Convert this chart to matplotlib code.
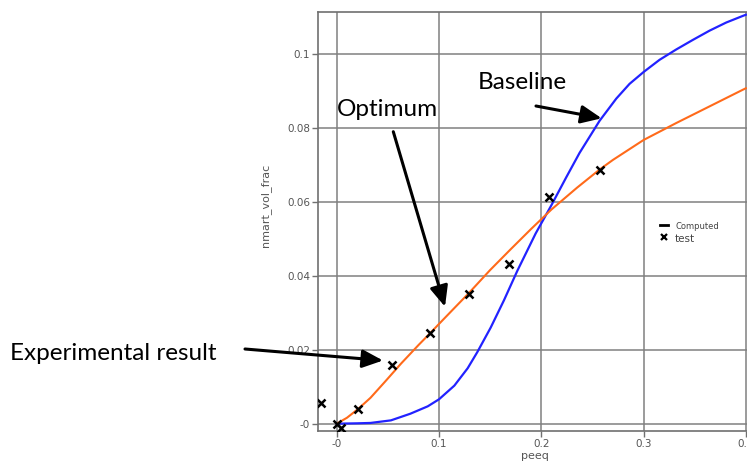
import matplotlib
matplotlib.use('Agg')
import matplotlib.pyplot as plt
from matplotlib.lines import Line2D

# baseline model curve (blue)
base_x = [0, 0.02, 0.033, 0.053, 0.072, 0.089, 0.10, 0.115, 0.128, 0.1375, 0.1505, 0.1635,
          0.1766, 0.1945, 0.21, 0.2244, 0.2374, 0.257, 0.2733, 0.2863, 0.30, 0.3156, 0.3319,
          0.3482, 0.3645, 0.3808, 0.3971, 0.40]
base_y = [0, 0.0001, 0.0002, 0.0009, 0.0027, 0.0047, 0.0066, 0.0103, 0.0150, 0.0194, 0.0260,
          0.0334, 0.0414, 0.0515, 0.0592, 0.0667, 0.0733, 0.0820, 0.0880, 0.0920, 0.0952,
          0.0985, 0.1013, 0.1039, 0.1064, 0.1086, 0.1104, 0.1107]

# optimum model curve (orange)
opt_x = [0, 0.01, 0.021, 0.033, 0.047, 0.063, 0.08, 0.091, 0.10, 0.115, 0.129, 0.15, 0.17,
         0.19, 0.21, 0.235, 0.257, 0.27, 0.30, 0.332, 0.3645, 0.397, 0.40]
opt_y = [0, 0.0016, 0.0040, 0.0070, 0.0113, 0.0163, 0.0213, 0.0244, 0.0270, 0.0313, 0.0353,
         0.0416, 0.0472, 0.0527, 0.0580, 0.0639, 0.0688, 0.0714, 0.0768, 0.0814, 0.0859,
         0.0904, 0.0908]

# experimental points
test_x = [-0.015, 0.0, 0.004, 0.021, 0.054, 0.091, 0.129, 0.168, 0.208, 0.257]
test_y = [0.0055, 0.0, -0.0011, 0.004, 0.0159, 0.0245, 0.0351, 0.0433, 0.0613, 0.0688]

xticks = [0, 0.1, 0.2, 0.3, 0.4]
xtick_labels = ['-0', '0.1', '0.2', '0.3', '0.4']
yticks = [0, 0.02, 0.04, 0.06, 0.08, 0.1]
ytick_labels = ['-0', '0.02', '0.04', '0.06', '0.08', '0.1']

W, H = 747, 463
fig = plt.figure(figsize=(W / 100, H / 100), dpi=100)
ax = fig.add_axes([318.3 / W, (H - 431) / H, 433.5 / W, 419.3 / H])

ax.plot(base_x, base_y, color='#2222ff', lw=1.6, zorder=3)
ax.plot(opt_x, opt_y, color='#ff6a1a', lw=1.5, zorder=3)
ax.plot(test_x, test_y, ls='none', marker='x', ms=6, mew=1.8, color='black', zorder=4)

ax.set_xlim(-0.018, 0.4058)
ax.set_ylim(-0.00198, 0.11153)
ax.set_xticks(xticks)
ax.set_xticklabels(xtick_labels)
ax.set_yticks(yticks)
ax.set_yticklabels(ytick_labels)
ax.grid(True, color='#808080', lw=1.1)
ax.set_axisbelow(True)
ax.tick_params(direction='out', length=4, width=1, color='#707070',
               labelcolor='#555555', labelsize=7.5, pad=2)
for s in ax.spines.values():
    s.set_color('#707070')
    s.set_linewidth(1.2)

ax.set_xlabel('peeq', fontsize=8, color='#555555', labelpad=1)
ax.set_ylabel('nmart_vol_frac', fontsize=8, color='#555555')
ax.yaxis.set_label_coords(-0.11, 0.537)

handles = [Line2D([], [], color='black', lw=2),
           Line2D([], [], ls='none', marker='x', ms=5, mew=1.6, color='black')]
leg = ax.legend(handles, ['Computed', 'test'], loc='center left',
                bbox_to_anchor=(0.772, 0.475), frameon=False, handlelength=0.6,
                handletextpad=0.5, labelspacing=0.05, borderpad=0)
leg.get_texts()[0].set_fontsize(6)
leg.get_texts()[1].set_fontsize(7.5)
for t in leg.get_texts():
    t.set_color('#444444')

# annotation texts
fnt = dict(family=['Lato', 'DejaVu Sans'], fontsize=17.5, color='black', va='baseline')
fig.text(337 / W, (H - 116) / H, 'Optimum', **fnt)
fig.text(478 / W, (H - 89.3) / H, 'Baseline', **fnt)
fig.text(10 / W, (H - 360) / H, 'Experimental result', **fnt)

arrows = [((393.3, 131.7), (445, 306.7)),
          ((536, 106), (601.7, 118.3)),
          ((245, 349), (383, 360.5))]
for tail, tip in arrows:
    fig.add_artist(matplotlib.patches.FancyArrowPatch(
        (tail[0] / W, (H - tail[1]) / H), (tip[0] / W, (H - tip[1]) / H),
        transform=fig.transFigure, arrowstyle='-|>,head_length=0.5,head_width=0.22',
        mutation_scale=25, color='black', lw=2.2, shrinkA=0, shrinkB=0))

fig.savefig('out.png', dpi=100)
